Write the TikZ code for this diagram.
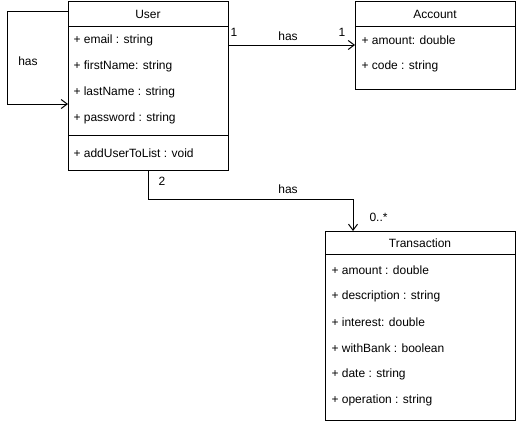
\documentclass[tikz,border=0pt]{standalone}
\usepackage{fontspec}
\setmainfont{Liberation Sans}
\usetikzlibrary{arrows.meta,calc}
\begin{document}
\begin{tikzpicture}[x=1pt,y=-1pt,line width=1pt,
  box/.style={draw,anchor=north west,inner sep=0,outer sep=0},
  txt/.style={font=\fontsize{12}{14}\selectfont,inner sep=0,anchor=west},
  ttl/.style={font=\fontsize{12}{14}\selectfont,inner sep=0},
  lbl/.style={font=\fontsize{12}{14}\selectfont,inner sep=0},
  arr/.style={-{Straight Barb[length=6pt,width=9pt,line width=1pt]}}]
\useasboundingbox (0,0) rectangle (516,421);
% User
\node[box,minimum width=160pt,minimum height=169pt] (user) at (68,1) {};
\draw ($(user.north west)+(0,25)$) -- ($(user.north east)+(0,25)$);
\draw ($(user.north west)+(0,134)$) -- ($(user.north east)+(0,134)$);
\node[ttl] (ut) at (148,14) {User};
\node[txt] (u1) at (73,40) {+ email : string};
\node[txt] (u2) at (73,66) {+ firstName: string};
\node[txt] (u3) at (73,92) {+ lastName : string};
\node[txt] (u4) at (73,118) {+ password : string};
\node[txt] (u5) at (73,153) {+ addUserToList : void};
% Account
\node[box,minimum width=160pt,minimum height=88pt] (acc) at (355,1) {};
\draw ($(acc.north west)+(0,25)$) -- ($(acc.north east)+(0,25)$);
\node[ttl] (at) at (435,14) {Account};
\node[txt] (a1) at (361,40) {+ amount: double};
\node[txt] (a2) at (361,66) {+ code : string};
% Transaction
\node[box,minimum width=190pt,minimum height=189pt] (tr) at (325,231) {};
\draw ($(tr.north west)+(0,23)$) -- ($(tr.north east)+(0,23)$);
\node[ttl] (tt) at (420,243) {Transaction};
\node[txt] (t1) at (331,270) {+ amount : double};
\node[txt] (t2) at (331,296) {+ description : string};
\node[txt] (t3) at (331,322) {+ interest: double};
\node[txt] (t4) at (331,348) {+ withBank : boolean};
\node[txt] (t5) at (331,374) {+ date : string};
\node[txt] (t6) at (331,400) {+ operation : string};
% connectors
\draw[arr] ($(user.north west)+(0,10)$) -| (7,104) -- ($(user.north west)+(0,103)$);
\node[lbl] (l0) at (28,61) {has};
\draw[arr] ($(user.north east)+(0,44)$) -- ($(acc.north west)+(0,44)$);
\node[lbl,anchor=west] (l1) at (230,32) {1};
\node[lbl] (l2) at (288,36) {has};
\node[lbl] (l3) at (342,32) {1};
\draw[arr] (user.south -| 148,0) |- (353,199) -- (tr.north -| 353,0);
\node[lbl] (l4) at (162,181) {2};
\node[lbl] (l5) at (288,189) {has};
\node[lbl,anchor=west] (l6) at (369,217) {0..*};
\end{tikzpicture}
\end{document}
